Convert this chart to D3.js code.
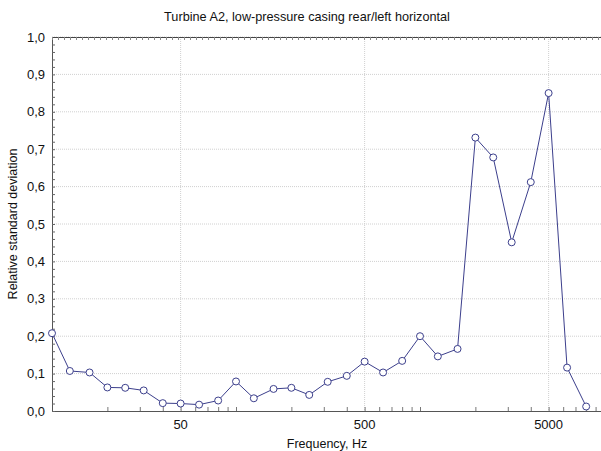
<!DOCTYPE html>
<html>
<head>
<meta charset="utf-8">
<script src="https://cdnjs.cloudflare.com/ajax/libs/d3/7.8.5/d3.min.js"></script>
<style>
  body { margin: 0; background: #fff; }
  svg { display: block; font-family: "Liberation Sans", Arial, sans-serif; }
</style>
</head>
<body>
<svg id="chart" width="601" height="451"></svg>
<script>
// third-octave band centre frequencies, Hz
const freqs = [10, 12.5, 16, 20, 25, 31.5, 40, 50, 63, 80, 100, 125, 160, 200, 250,
               315, 400, 500, 630, 800, 1000, 1250, 1600, 2000, 2500, 3150, 4000, 5000, 6300, 8000];
// relative standard deviation
const values = [0.208, 0.107, 0.103, 0.063, 0.062, 0.055, 0.021, 0.020, 0.017, 0.028, 0.079, 0.034, 0.059, 0.062, 0.043,
                0.078, 0.094, 0.132, 0.103, 0.134, 0.200, 0.146, 0.166, 0.731, 0.678, 0.451, 0.612, 0.850, 0.116, 0.012];
const xLabelTicks = [50, 500, 5000];
const yTicks = [0, 0.1, 0.2, 0.3, 0.4, 0.5, 0.6, 0.7, 0.8, 0.9, 1.0];

const title = 'Turbine A2, low-pressure casing rear/left horizontal';
const xTitle = 'Frequency, Hz';
const yTitle = 'Relative standard deviation';

const svg = d3.select('#chart');
const margin = { left: 52, top: 37 };
const w = 552, h = 374;

const x = d3.scaleLog().domain([10, 10000]).range([0, w]);
const y = d3.scaleLinear().domain([0, 1]).range([h, 0]);
const fmt = d => d3.format('.1f')(d).replace('.', ',');

const g = svg.append('g').attr('transform', `translate(${margin.left},${margin.top})`);

// grid
g.append('g')
  .selectAll('line')
  .data(yTicks.slice(1))
  .enter().append('line')
  .attr('x1', 0).attr('x2', w)
  .attr('y1', d => y(d)).attr('y2', d => y(d))
  .attr('stroke', '#d0d0d0').attr('stroke-dasharray', '1,1');

g.append('g')
  .selectAll('line')
  .data(xLabelTicks)
  .enter().append('line')
  .attr('x1', d => x(d)).attr('x2', d => x(d))
  .attr('y1', 0).attr('y2', h)
  .attr('stroke', '#d0d0d0').attr('stroke-dasharray', '1,1');

// minor log ticks on x
const logTicks = x.ticks();
const xAxis = g.append('g').attr('transform', `translate(0,${h})`)
  .call(d3.axisBottom(x).tickValues(logTicks).tickSize(-4).tickFormat(''));
xAxis.select('.domain').attr('stroke', '#555');
xAxis.selectAll('line').attr('stroke', '#777');

g.append('g').selectAll('text')
  .data(xLabelTicks)
  .enter().append('text')
  .attr('x', d => x(d)).attr('y', h + 18)
  .attr('text-anchor', 'middle')
  .attr('font-size', 13)
  .attr('fill', '#111')
  .text(d => d);

// y axis with minor ticks
const yMinor = d3.range(0, 51).map(i => i / 50);
const yAxis = g.append('g')
  .call(d3.axisLeft(y).tickValues(yMinor).tickSize(-3).tickFormat(''));
yAxis.select('.domain').attr('stroke', '#555');
yAxis.selectAll('line').attr('stroke', '#666');

g.append('g').selectAll('text')
  .data(yTicks)
  .enter().append('text')
  .attr('x', -7).attr('y', d => y(d) + 4.5)
  .attr('text-anchor', 'end')
  .attr('font-size', 13)
  .attr('fill', '#111')
  .text(fmt);

// top border with dense ticks
const xTop = d3.scaleLinear().domain([0, 92]).range([0, w]);
const topAxis = g.append('g')
  .call(d3.axisTop(xTop).tickValues(d3.range(0, 93)).tickSize(-3).tickFormat(''));
topAxis.select('.domain').attr('stroke', '#444');
topAxis.selectAll('line').attr('stroke', '#888');

// series
const line = d3.line().x((d, i) => x(freqs[i])).y(d => y(d));
g.append('path')
  .datum(values)
  .attr('fill', 'none')
  .attr('stroke', '#3c3f8c')
  .attr('stroke-width', 1)
  .attr('d', line);

g.append('g').selectAll('circle')
  .data(values)
  .enter().append('circle')
  .attr('cx', (d, i) => x(freqs[i]))
  .attr('cy', d => y(d))
  .attr('r', 3.5)
  .attr('fill', '#fff')
  .attr('stroke', '#3c3f8c')
  .attr('stroke-width', 1);

// titles
svg.append('text')
  .attr('x', 307).attr('y', 21)
  .attr('text-anchor', 'middle')
  .attr('font-size', 12.7)
  .attr('fill', '#111')
  .text(title);

svg.append('text')
  .attr('x', 327).attr('y', 448)
  .attr('text-anchor', 'middle')
  .attr('font-size', 12.5)
  .attr('fill', '#111')
  .text(xTitle);

svg.append('text')
  .attr('transform', 'translate(17,224) rotate(-90)')
  .attr('text-anchor', 'middle')
  .attr('font-size', 12.5)
  .attr('fill', '#111')
  .text(yTitle);
</script>
</body>
</html>
